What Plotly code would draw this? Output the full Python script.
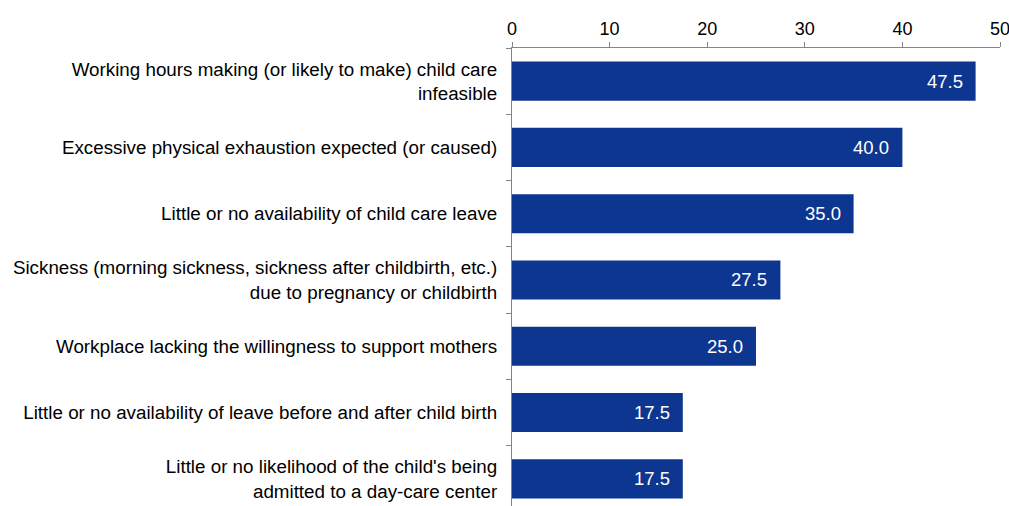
import plotly.graph_objects as go

reasons = [
    "Working hours making (or likely to make) child care<br>infeasible",
    "Excessive physical exhaustion expected (or caused)",
    "Little or no availability of child care leave",
    "Sickness (morning sickness, sickness after childbirth, etc.)<br>due to pregnancy or childbirth",
    "Workplace lacking the willingness to support mothers",
    "Little or no availability of leave before and after child birth",
    "Little or no likelihood of the child's being<br>admitted to a day-care center",
]
shares = [47.5, 40.0, 35.0, 27.5, 25.0, 17.5, 17.5]
x_ticks = [0, 10, 20, 30, 40, 50]

bar_color = "#0d3690"
axis_color = "#868686"

fig = go.Figure(go.Bar(
    x=shares, y=reasons, orientation="h",
    marker=dict(color=bar_color, line=dict(width=0)),
    hoverinfo="x+y",
))

# value labels inside the bar end
for r, v in zip(reasons, shares):
    fig.add_annotation(x=v, y=r, text=f"{v:.1f}", showarrow=False,
                       xanchor="right", xshift=-11,
                       font=dict(color="white", size=18.5))

fig.update_layout(
    width=1009, height=506,
    margin=dict(l=512, r=9, t=48, b=0),
    plot_bgcolor="white", paper_bgcolor="white",
    font=dict(family="Liberation Sans, Arial, sans-serif", size=18.8, color="#000"),
    bargap=0.41,
    showlegend=False,
)
fig.update_xaxes(
    side="top", range=[0, 50], tickvals=x_ticks, showgrid=False, zeroline=False,
    showline=True, linecolor=axis_color, linewidth=1,
    ticks="outside", ticklen=5, tickcolor=axis_color, automargin=False,
    tickfont=dict(size=18), ticklabeloverflow="allow",
)
fig.update_yaxes(
    range=[6.41, -0.5], showgrid=False, zeroline=False,
    showline=True, linecolor=axis_color, linewidth=1,
    ticks="outside", tickson="boundaries", ticklen=5, tickcolor=axis_color,
    ticklabelstandoff=10, automargin=False,
)

# the page body has a default 8px margin; drop it so the figure sits at 0,0
fig.write_html("out.html", config={"displayModeBar": False},
               post_script="document.body.style.margin='0';")
